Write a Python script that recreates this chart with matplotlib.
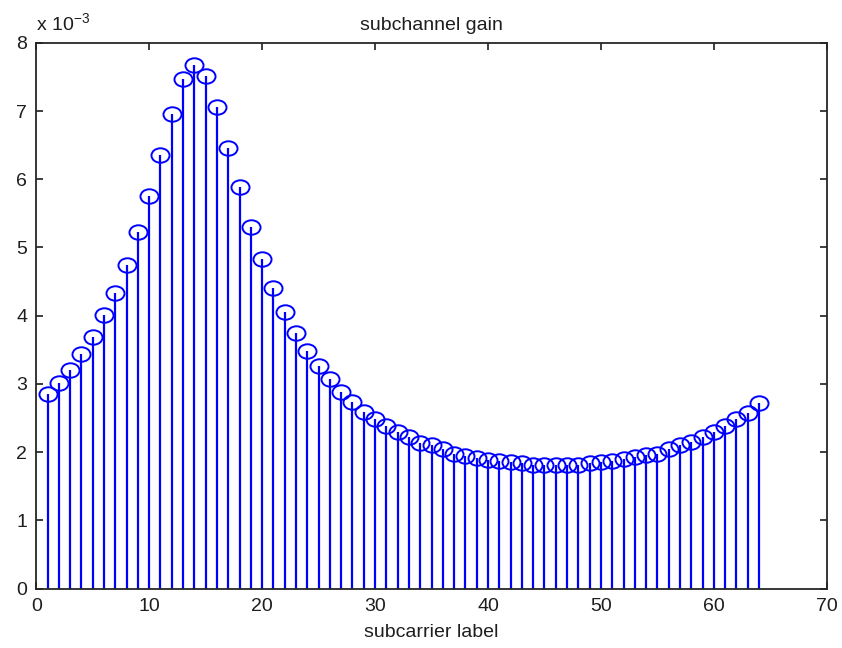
import numpy as np
import matplotlib
matplotlib.use('Agg')
import matplotlib.pyplot as plt
from matplotlib.path import Path
from matplotlib.transforms import Affine2D

# Gain par sous-porteuse (en unités de 1e-3)
subcarrier = np.arange(1, 65)
gain_e3 = [2.85, 3.01, 3.20, 3.44, 3.69, 4.01, 4.33, 4.75, 5.22, 5.75,
           6.35, 6.95, 7.47, 7.68, 7.51, 7.06, 6.46, 5.88, 5.30, 4.83,
           4.40, 4.05, 3.74, 3.49, 3.26, 3.07, 2.88, 2.73, 2.59, 2.48,
           2.38, 2.30, 2.23, 2.14, 2.10, 2.04, 1.98, 1.95, 1.91, 1.89,
           1.87, 1.85, 1.84, 1.82, 1.82, 1.815, 1.81, 1.82, 1.84, 1.85,
           1.87, 1.90, 1.925, 1.96, 1.98, 2.04, 2.10, 2.15, 2.22, 2.29,
           2.38, 2.49, 2.57, 2.72]
gain = np.array(gain_e3) * 1e-3

plt.rcParams['font.family'] = ['Liberation Sans', 'DejaVu Sans']
plt.rcParams['mathtext.fontset'] = 'custom'
plt.rcParams['mathtext.rm'] = 'Liberation Sans'
plt.rcParams['mathtext.it'] = 'Liberation Sans'
plt.rcParams['mathtext.bf'] = 'Liberation Sans'

txt_col = '#1e1e1e'

# cercle un peu aplati comme sur l'image d'origine
ellipse = Path.unit_circle().transformed(Affine2D().scale(1.0, 0.8))

fig = plt.figure(figsize=(8.42, 6.48), dpi=100)
ax = fig.add_axes([0.043, 0.0915, 0.939, 0.8425])

markerline, stemlines, baseline = ax.stem(subcarrier, gain, basefmt=' ')
plt.setp(stemlines, color='#0000ff', linewidth=1.6)
plt.setp(markerline, color='#0000ff', marker=ellipse, markerfacecolor='none',
         markeredgecolor='#0000ff', markersize=13, markeredgewidth=1.4)

ax.set_xlim(0, 70)
ax.set_ylim(0, 8e-3)
ax.set_xticks(np.arange(0, 71, 10))
ax.set_yticks(np.arange(0, 9) * 1e-3)
ax.set_yticklabels([str(i) for i in range(9)])
ax.tick_params(direction='in', length=5, width=1.2, top=True, right=True,
               labelsize=14, colors=txt_col, pad=6.5)
for s in ax.spines.values():
    s.set_linewidth(1.3)
    s.set_color('#262626')

ax.text(0.0, 1.015, r'x 10$^{-3}$', transform=ax.transAxes, fontsize=14,
        ha='left', va='bottom', color=txt_col)
ax.set_title('subchannel gain', fontsize=14, pad=9, color=txt_col)
ax.set_xlabel('subcarrier label', fontsize=14, labelpad=7, color=txt_col)

plt.savefig('out.png', dpi=100)
